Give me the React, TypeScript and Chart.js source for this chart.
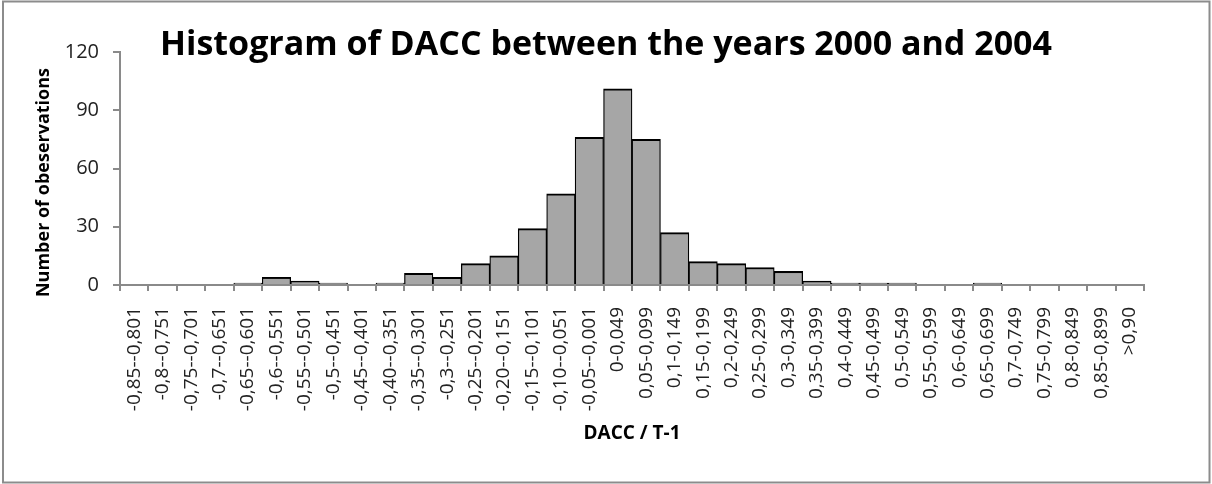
import { useEffect, useRef } from 'react';
import { Chart, registerables } from 'chart.js';

Chart.register(...registerables);

const categories: string[] = [
  '-0,85--0,801', '-0,8--0,751', '-0,75--0,701', '-0,7--0,651', '-0,65--0,601',
  '-0,6--0,551', '-0,55--0,501', '-0,5--0,451', '-0,45--0,401', '-0,40--0,351',
  '-0,35--0,301', '-0,3--0,251', '-0,25--0,201', '-0,20--0,151', '-0,15--0,101',
  '-0,10--0,051', '-0,05--0,001', '0-0,049', '0,05-0,099', '0,1-0,149',
  '0,15-0,199', '0,2-0,249', '0,25-0,299', '0,3-0,349', '0,35-0,399',
  '0,4-0,449', '0,45-0,499', '0,5-0,549', '0,55-0,599', '0,6-0,649',
  '0,65-0,699', '0,7-0,749', '0,75-0,799', '0,8-0,849', '0,85-0,899', '>0,90',
];

const counts: number[] = [
  0, 0, 0, 0, 1, 4, 2, 1, 0, 1, 6, 4, 11, 15, 29, 47, 76, 101, 75, 27,
  12, 11, 9, 7, 2, 1, 1, 1, 0, 0, 1, 0, 0, 0, 0, 0,
];

const yTicks: number[] = [0, 30, 60, 90, 120];

const titleText = 'Histogram of DACC between the years 2000 and 2004';
const xTitle = 'DACC / T-1';
const yTitle = 'Number of obeservations';

const FONT = "'Open Sans', 'DejaVu Sans', sans-serif";
const AXIS = '#8a8a8a';
const TICK_COLOR = '#222222';

export default function App() {
  const ref = useRef<HTMLCanvasElement | null>(null);

  useEffect(() => {
    if (!ref.current) return;
    const frame = {
      id: 'frame',
      beforeDraw(chart: any) {
        const ctx = chart.ctx;
        ctx.save();
        ctx.fillStyle = '#ffffff';
        ctx.fillRect(0, 0, chart.width, chart.height);
        ctx.restore();
      },
      afterDraw(chart: any) {
        const ctx = chart.ctx;
        ctx.save();
        ctx.strokeStyle = '#8c8c8c';
        ctx.lineWidth = 2;
        ctx.strokeRect(3, 1.5, 1206.5, 481);
        // y-axis title, placed as in the reference (slightly below the plot centre)
        ctx.translate(44, 182.5);
        ctx.rotate(-Math.PI / 2);
        ctx.fillStyle = '#000000';
        ctx.font = `bold 18px ${FONT}`;
        ctx.textAlign = 'center';
        ctx.textBaseline = 'middle';
        ctx.fillText(yTitle, 0, 0);
        ctx.restore();
      },
    };

    const chart = new Chart(ref.current, {
      type: 'bar',
      data: {
        labels: categories,
        datasets: [
          {
            data: counts.map((v) => (v === 0 ? null : v)),
            backgroundColor: '#a6a6a6',
            borderColor: '#000000',
            borderWidth: { top: 2, left: 1.25, right: 1.25, bottom: 0 },
            borderSkipped: 'start',
            categoryPercentage: 1,
            barPercentage: 1,
          },
        ],
      },
      plugins: [frame],
      options: {
        responsive: false,
        animation: false,
        layout: { padding: { left: 0, right: 0, top: 0, bottom: 0 } },
        plugins: {
          legend: { display: false },
          tooltip: { enabled: false },
          title: {
            display: true,
            text: titleText,
            color: '#000000',
            font: { family: FONT, size: 34, weight: 'bold', lineHeight: 0.3 },
            padding: { top: 40.4, bottom: 1.4 },
          },
        },
        scales: {
          x: {
            offset: true,
            afterFit(scale: any) {
              scale.height = 199;
            },
            grid: {
              display: true,
              offset: true,
              drawOnChartArea: false,
              drawTicks: true,
              tickLength: 6,
              color: AXIS,
              lineWidth: 2,
            },
            border: { display: true, color: AXIS, width: 2, z: 1 },
            ticks: {
              autoSkip: false,
              minRotation: 90,
              maxRotation: 90,
              padding: 16,
              color: TICK_COLOR,
              font: { family: FONT, size: 19 },
            },
            title: {
              display: true,
              text: xTitle,
              color: '#000000',
              font: { family: FONT, size: 19, weight: 'bold' },
              padding: { top: 0, bottom: 38.6 },
            },
          },
          y: {
            min: 0,
            max: 120,
            afterFit(scale: any) {
              scale.width = 120;
            },
            afterBuildTicks(scale: any) {
              scale.ticks = yTicks.map((v) => ({ value: v }));
            },
            grid: {
              display: true,
              drawOnChartArea: false,
              drawTicks: true,
              tickLength: 7,
              color: AXIS,
              lineWidth: 2,
            },
            border: { display: true, color: AXIS, width: 2, z: 1 },
            ticks: {
              padding: 14,
              color: TICK_COLOR,
              font: { family: FONT, size: 20 },
            },
            title: { display: false },
          },
          yRight: {
            type: 'linear',
            position: 'right',
            display: true,
            afterFit(scale: any) {
              scale.width = 68;
            },
            grid: { display: false, drawTicks: false },
            border: { display: false },
            ticks: { display: false },
          },
        },
      },
    } as any);

    return () => chart.destroy();
  }, []);

  return (
    <div style={{ position: 'fixed', left: 0, top: 0, width: 1212, height: 484 }}>
      <canvas ref={ref} width={1212} height={484} style={{ display: 'block' }} />
    </div>
  );
}
